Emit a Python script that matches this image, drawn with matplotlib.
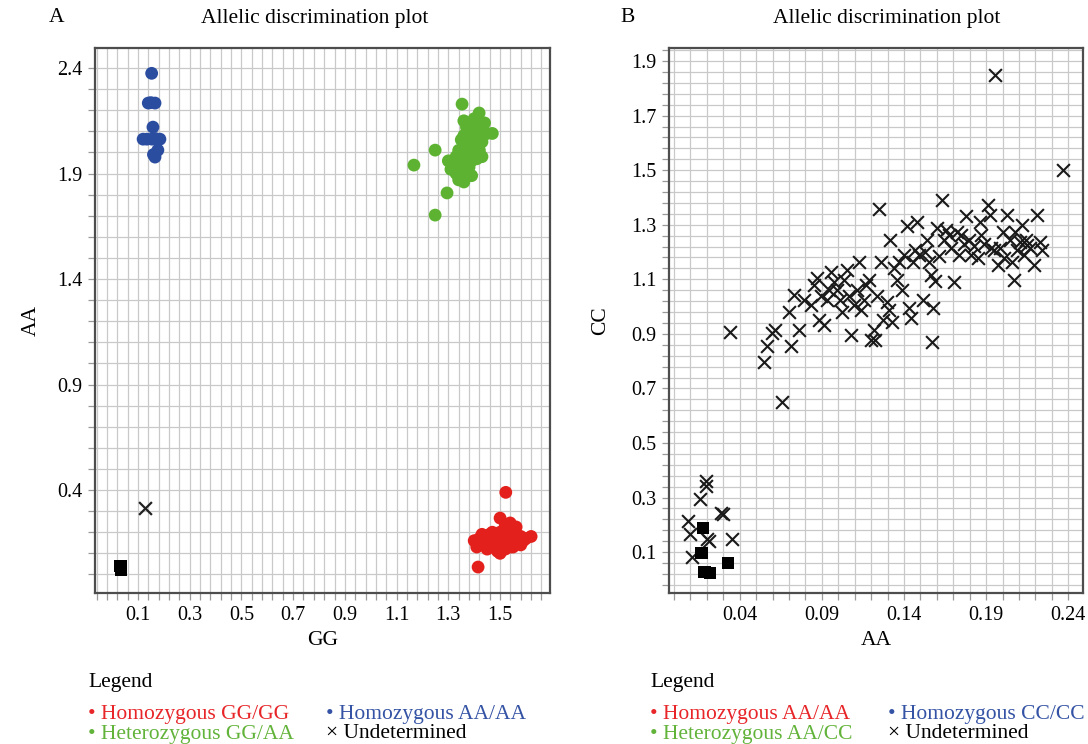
import numpy as np
import matplotlib
matplotlib.use("Agg")
import matplotlib.pyplot as plt
from matplotlib.ticker import FixedLocator

plt.rcParams['font.family'] = ['Liberation Serif', 'DejaVu Serif']

# ---------------- Panel A data (GG vs AA) ----------------
a_hom_gg_x = [1.40, 1.41, 1.42, 1.43, 1.44, 1.45, 1.46, 1.47, 1.48, 1.49, 1.50, 1.50, 1.51, 1.52,
              1.53, 1.54, 1.55, 1.56, 1.57, 1.58, 1.59, 1.60, 1.62, 1.45, 1.47, 1.49, 1.52, 1.53,
              1.44, 1.46, 1.48, 1.51, 1.54, 1.56, 1.58, 1.43, 1.50, 1.52,
              1.522, 1.50, 1.539, 1.562, 1.415]
a_hom_gg_y = [0.16, 0.13, 0.17, 0.14, 0.18, 0.15, 0.19, 0.16, 0.13, 0.17, 0.20, 0.14, 0.17, 0.15,
              0.18, 0.16, 0.13, 0.17, 0.15, 0.18, 0.16, 0.17, 0.18, 0.12, 0.20, 0.11, 0.12, 0.21,
              0.16, 0.14, 0.18, 0.19, 0.13, 0.20, 0.14, 0.19, 0.10, 0.23,
              0.389, 0.267, 0.244, 0.225, 0.035]

a_hom_aa_x = [0.153, 0.140, 0.150, 0.166, 0.158, 0.120, 0.135, 0.154, 0.170, 0.185, 0.177, 0.166, 0.160]
a_hom_aa_y = [2.375, 2.234, 2.236, 2.234, 2.120, 2.063, 2.063, 2.063, 2.065, 2.063, 2.011, 1.978, 1.990]

a_het_x = [1.36, 1.38, 1.40, 1.42, 1.39, 1.41, 1.43, 1.45, 1.47, 1.37, 1.44,
           1.35, 1.37, 1.39, 1.41, 1.43, 1.36, 1.38, 1.40, 1.42, 1.34, 1.33, 1.35, 1.37, 1.39,
           1.41, 1.43, 1.36, 1.38, 1.40,
           1.32, 1.34, 1.36, 1.38, 1.33, 1.35, 1.37, 1.34, 1.36, 1.39, 1.32, 1.30, 1.31,
           1.353, 1.419, 1.249, 1.167, 1.295, 1.249]
a_het_y = [2.15, 2.14, 2.16, 2.12, 2.10, 2.08, 2.10, 2.09, 2.09, 2.12, 2.14,
           2.06, 2.05, 2.04, 2.03, 2.05, 2.02, 2.00, 1.99, 2.01, 2.01, 1.98, 1.97, 1.95, 1.96,
           1.97, 1.98, 2.08, 2.07, 2.07,
           1.95, 1.93, 1.92, 1.93, 1.90, 1.89, 1.90, 1.87, 1.86, 1.89, 1.92, 1.96, 1.92,
           2.229, 2.187, 2.011, 1.940, 1.808, 1.703]

a_undet_x = [0.127]
a_undet_y = [0.315]

a_ntc_x = [0.033, 0.034, 0.035]
a_ntc_y = [0.040, 0.028, 0.020]

# ---------------- Panel B data (AA vs CC) ----------------
b_undet_x = [0.0193, 0.0193, 0.0159, 0.0285, 0.0299, 0.0085, 0.0096, 0.0203, 0.0213, 0.0352, 0.0112,
             0.034, 0.0659, 0.0549, 0.0567, 0.0598, 0.0616, 0.0713, 0.0701, 0.0732, 0.0762, 0.0793,
             0.0835, 0.0854, 0.0872, 0.0884, 0.0896, 0.0915, 0.0933, 0.0945, 0.0957, 0.0976, 0.0994,
             0.1012, 0.1024, 0.1037, 0.1055, 0.1067, 0.1079, 0.1098, 0.1116, 0.1128, 0.1140, 0.1159,
             0.1171, 0.1189, 0.1201, 0.1220, 0.1226, 0.1250, 0.1238, 0.1262, 0.1274, 0.1299, 0.1311,
             0.1317, 0.1329, 0.1341, 0.1360, 0.1372, 0.1390, 0.1402, 0.1421, 0.1433, 0.1445, 0.1457,
             0.1470, 0.1482, 0.1494, 0.1518, 0.1530, 0.1543, 0.1555, 0.1567, 0.1573, 0.1579, 0.1591,
             0.1604, 0.1616, 0.1634, 0.1646, 0.1659, 0.1677, 0.1689, 0.1707, 0.1726, 0.1738, 0.1750,
             0.1768, 0.1780, 0.1799, 0.1811, 0.1829, 0.1848, 0.1860, 0.1872, 0.1890, 0.1909, 0.1921,
             0.1933, 0.1951, 0.1970, 0.1982, 0.2000, 0.2012, 0.2030, 0.2043, 0.2055, 0.2067, 0.2079,
             0.2091, 0.2104, 0.2116, 0.2128, 0.2140, 0.2152, 0.2165, 0.2189, 0.2213, 0.2226, 0.2238,
             0.2366, 0.1955]
b_undet_y = [0.361, 0.342, 0.294, 0.242, 0.239, 0.214, 0.166, 0.147, 0.141, 0.148, 0.083,
             0.906, 0.650, 0.796, 0.855, 0.903, 0.914, 0.855, 0.980, 1.042, 0.914, 1.024,
             1.005, 1.079, 1.104, 0.950, 1.038, 0.932, 1.024, 1.060, 1.126, 1.090, 1.060,
             1.024, 0.980, 1.097, 1.134, 1.038, 0.895, 1.005, 1.060, 1.163, 0.987, 1.024,
             1.079, 1.097, 0.877, 0.914, 0.877, 1.357, 1.038, 1.163, 0.950, 1.016, 0.987,
             1.244, 0.943, 1.141, 1.097, 1.163, 1.060, 1.189, 1.295, 0.994, 0.958, 1.163,
             1.207, 1.310, 1.189, 1.024, 1.200, 1.244, 1.163, 1.115, 0.870, 0.994, 1.093,
             1.288, 1.185, 1.390, 1.244, 1.280, 1.262, 1.214, 1.090, 1.273, 1.189, 1.262,
             1.229, 1.332, 1.244, 1.189, 1.222, 1.178, 1.310, 1.262, 1.229, 1.372, 1.335,
             1.214, 1.207, 1.152, 1.214, 1.273, 1.178, 1.335, 1.244, 1.163, 1.097, 1.273,
             1.207, 1.236, 1.299, 1.189, 1.244, 1.225, 1.214, 1.152, 1.335, 1.236, 1.207,
             1.500, 1.848]

b_ntc_x = [0.0177, 0.0169, 0.0187, 0.0220, 0.0329]
b_ntc_y = [0.189, 0.097, 0.028, 0.024, 0.059]

# tick labels
a_xticks = [0.1, 0.3, 0.5, 0.7, 0.9, 1.1, 1.3, 1.5]
a_yticks = [0.4, 0.9, 1.4, 1.9, 2.4]
b_xticks = [0.04, 0.09, 0.14, 0.19, 0.24]
b_yticks = [0.1, 0.3, 0.5, 0.7, 0.9, 1.1, 1.3, 1.5, 1.7, 1.9]

RED = '#E3201B'
BLUE = '#2B4DA0'
GREEN = '#5DB331'
FS_TICK = 14.5
FS = 15.5

fig = plt.figure(figsize=(10.88, 7.44), dpi=100)
W, H = 1088.0, 744.0
axA = fig.add_axes([95 / W, 1 - 593 / H, (550 - 95) / W, (593 - 48) / H])
axB = fig.add_axes([669 / W, 1 - 593 / H, (1083 - 669) / W, (593 - 48) / H])


def style(ax, xlim, ylim, xmaj, ymaj, xminor, yminor, xfmt, yfmt):
    ax.set_xlim(*xlim)
    ax.set_ylim(*ylim)
    ax.xaxis.set_major_locator(FixedLocator(xmaj))
    ax.yaxis.set_major_locator(FixedLocator(ymaj))
    ax.xaxis.set_minor_locator(FixedLocator(xminor))
    ax.yaxis.set_minor_locator(FixedLocator(yminor))
    ax.set_xticklabels([xfmt.format(v) for v in xmaj], fontsize=FS_TICK)
    ax.set_yticklabels([yfmt.format(v) for v in ymaj], fontsize=FS_TICK)
    ax.grid(True, which='both', color='#c9c9c9', linewidth=0.9, zorder=0)
    ax.set_axisbelow(True)
    ax.tick_params(which='both', direction='out', length=5, width=0.9, color='#9a9a9a', pad=4)
    for sp in ax.spines.values():
        sp.set_color('#4d4d4d')
        sp.set_linewidth(1.6)


a_xminor = np.arange(-0.06, 1.70, 0.04)
a_yminor = np.arange(0.0, 2.5, 0.1)
b_xminor = np.arange(0.0, 0.25, 0.01)
b_yminor = np.arange(-0.02, 1.95, 0.04)
style(axA, (-0.066, 1.693), (-0.088, 2.495), a_xticks, a_yticks, a_xminor, a_yminor, '{:.1f}', '{:.1f}')
style(axB, (-0.003, 0.249), (-0.050, 1.948), b_xticks, b_yticks, b_xminor, b_yminor, '{:.2f}', '{:.1f}')

# Panel A marks
axA.scatter(a_hom_gg_x, a_hom_gg_y, s=85, color=RED, edgecolors='none', zorder=3)
axA.scatter(a_hom_aa_x, a_hom_aa_y, s=85, color=BLUE, edgecolors='none', zorder=3)
axA.scatter(a_het_x, a_het_y, s=85, color=GREEN, edgecolors='none', zorder=3)
axA.scatter(a_undet_x, a_undet_y, s=85, marker='x', color='#222222', linewidths=1.6, zorder=3)
axA.scatter(a_ntc_x, a_ntc_y, s=80, marker='s', color='black', edgecolors='none', zorder=3)

# Panel B marks
axB.scatter(b_undet_x, b_undet_y, s=85, marker='x', color='#1a1a1a', linewidths=1.5, zorder=3)
axB.scatter(b_ntc_x, b_ntc_y, s=80, marker='s', color='black', edgecolors='none', zorder=3)

# Axis labels
axA.set_xlabel('GG', fontsize=FS, labelpad=5)
axA.set_ylabel('AA', fontsize=FS, labelpad=12)
axB.set_xlabel('AA', fontsize=FS, labelpad=5)
axB.set_ylabel('CC', fontsize=FS, labelpad=15)

# Titles and panel letters
fig.text(315 / W, 1 - 19 / H, 'Allelic discrimination plot', fontsize=FS, ha='center', va='center')
fig.text(887 / W, 1 - 19 / H, 'Allelic discrimination plot', fontsize=FS, ha='center', va='center')
fig.text(57 / W, 1 - 18 / H, 'A', fontsize=FS, ha='center', va='center')
fig.text(628 / W, 1 - 18 / H, 'B', fontsize=FS, ha='center', va='center')


# Legends
def legend_block(x0, x1, labels):
    fig.text(x0 / W, 1 - 683 / H, 'Legend', fontsize=FS, ha='left', va='center')
    (l1, c1), (l2, c2), (l3, c3), (l4, c4) = labels
    fig.text(x0 / W, 1 - 714 / H, l1, fontsize=FS, color=c1, ha='left', va='center')
    fig.text(x1 / W, 1 - 714 / H, l2, fontsize=FS, color=c2, ha='left', va='center')
    fig.text(x0 / W, 1 - 734 / H, l3, fontsize=FS, color=c3, ha='left', va='center')
    fig.text(x1 / W, 1 - 734 / H, l4, fontsize=FS, color=c4, ha='left', va='center')


legend_block(88, 326, [('• Homozygous GG/GG', '#E8262A'), ('• Homozygous AA/AA', '#3553A5'),
                       ('• Heterozygous GG/AA', '#62B33A'), ('× Undetermined', 'black')])
legend_block(650, 888, [('• Homozygous AA/AA', '#E8262A'), ('• Homozygous CC/CC', '#3553A5'),
                        ('• Heterozygous AA/CC', '#62B33A'), ('× Undetermined', 'black')])

fig.savefig('out.png', dpi=100)
